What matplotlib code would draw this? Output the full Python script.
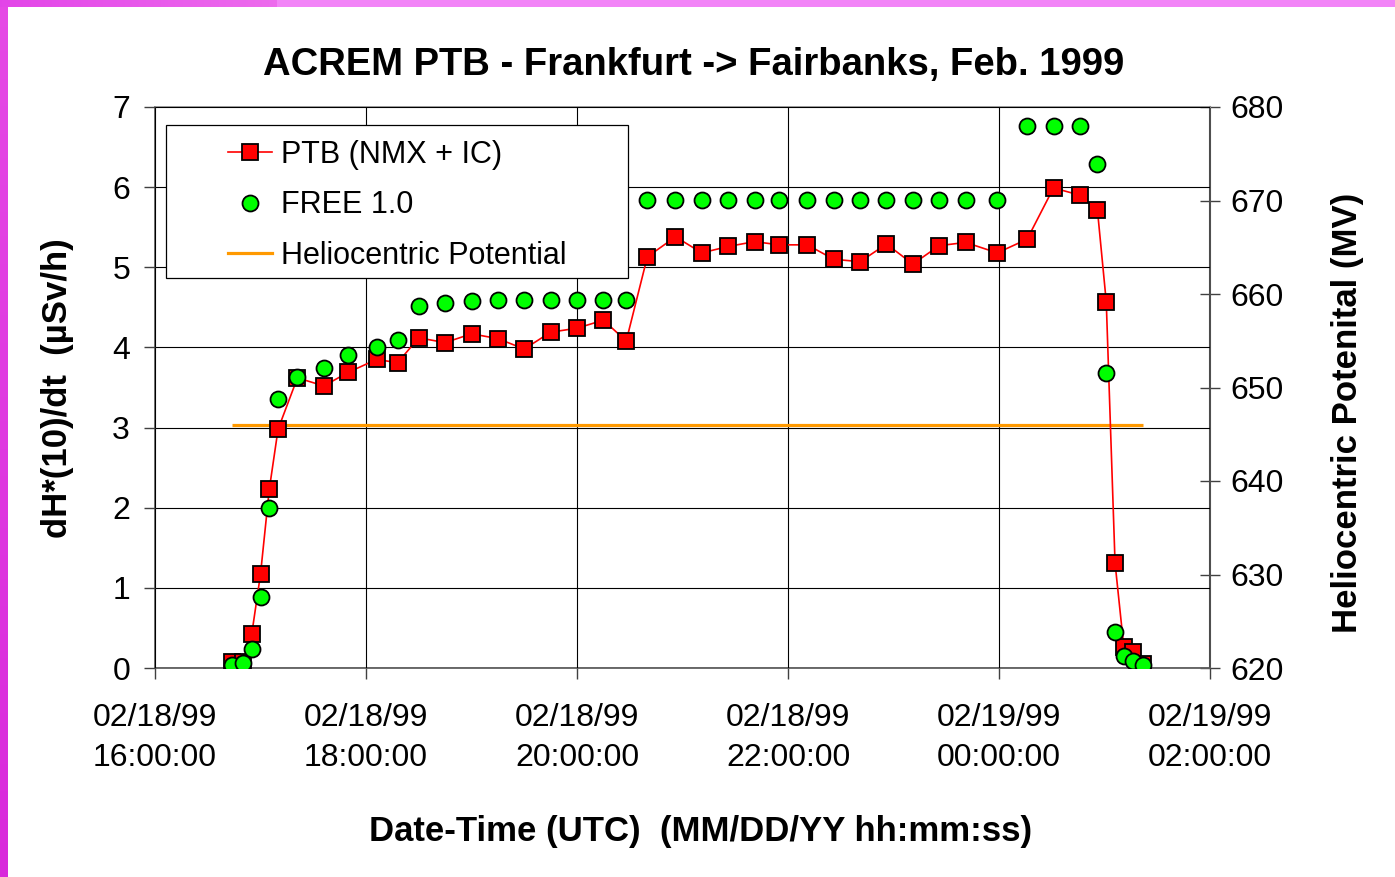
import matplotlib
matplotlib.use("Agg")
import matplotlib.pyplot as plt
import matplotlib.dates as mdates
from matplotlib.lines import Line2D
from matplotlib.patches import Rectangle
import numpy as np
import pandas as pd

# ---------------- data ----------------
times = [
    "02/18/99 16:44", "02/18/99 16:50", "02/18/99 16:55", "02/18/99 17:00", "02/18/99 17:05",
    "02/18/99 17:10", "02/18/99 17:21", "02/18/99 17:36", "02/18/99 17:50", "02/18/99 18:06",
    "02/18/99 18:18", "02/18/99 18:30", "02/18/99 18:45", "02/18/99 19:00", "02/18/99 19:15",
    "02/18/99 19:30", "02/18/99 19:45", "02/18/99 20:00", "02/18/99 20:15", "02/18/99 20:28",
    "02/18/99 20:40", "02/18/99 20:56", "02/18/99 21:11", "02/18/99 21:26", "02/18/99 21:41",
    "02/18/99 21:55", "02/18/99 22:11", "02/18/99 22:26", "02/18/99 22:41", "02/18/99 22:56",
    "02/18/99 23:11", "02/18/99 23:26", "02/18/99 23:41", "02/18/99 23:59", "02/19/99 00:16",
    "02/19/99 00:31", "02/19/99 00:46", "02/19/99 00:56", "02/19/99 01:01", "02/19/99 01:06",
    "02/19/99 01:11", "02/19/99 01:16", "02/19/99 01:22",
]
ptb = [0.07, 0.08, 0.42, 1.17, 2.23, 2.98, 3.62, 3.52, 3.69, 3.85,
       3.81, 4.12, 4.06, 4.17, 4.11, 3.98, 4.19, 4.24, 4.34, 4.08,
       5.13, 5.38, 5.18, 5.26, 5.32, 5.28, 5.28, 5.10, 5.07, 5.29,
       5.04, 5.27, 5.31, 5.18, 5.35, 5.99, 5.90, 5.71, 4.57, 1.31,
       0.26, 0.20, 0.05]
free = [0.04, 0.06, 0.24, 0.88, 2.00, 3.36, 3.63, 3.74, 3.91, 4.01,
        4.09, 4.52, 4.55, 4.58, 4.59, 4.59, 4.59, 4.59, 4.59, 4.59,
        5.84, 5.84, 5.84, 5.84, 5.84, 5.84, 5.84, 5.84, 5.84, 5.84,
        5.84, 5.84, 5.84, 5.84, 6.76, 6.76, 6.76, 6.29, 3.68, 0.45,
        0.15, 0.09, 0.04]
helio_times = ["02/18/99 16:44", "02/19/99 01:22"]
helio_values = [646, 646]

x_range = ["02/18/99 16:00", "02/19/99 02:00"]
left_ticks = [0, 1, 2, 3, 4, 5, 6, 7]
right_ticks = [620, 630, 640, 650, 660, 670, 680]

title = "ACREM PTB - Frankfurt -> Fairbanks, Feb. 1999"
xlabel = "Date-Time (UTC)  (MM/DD/YY hh:mm:ss)"
ylabel_left = "dH*(10)/dt  (\u00b5Sv/h)"
ylabel_right = "Heliocentric Potenital (MV)"
labels = ["PTB (NMX + IC)", "FREE 1.0", "Heliocentric Potential"]

# ---------------- style ----------------
plt.rcParams["font.family"] = ["Liberation Sans", "DejaVu Sans"]
W, H = 1395, 877
fig = plt.figure(figsize=(W / 100, H / 100), dpi=100)
fig.patch.set_facecolor("white")

def px(x0, y0, x1, y1):
    return [x0 / W, 1 - y1 / H, (x1 - x0) / W, (y1 - y0) / H]

ax = fig.add_axes(px(155, 107, 1210, 668))
ax2 = ax.twinx()
ax.set_zorder(ax2.get_zorder() + 1)
ax.patch.set_visible(False)

t = pd.to_datetime(times, format="%m/%d/%y %H:%M")
th = pd.to_datetime(helio_times, format="%m/%d/%y %H:%M")
xr = pd.to_datetime(x_range, format="%m/%d/%y %H:%M")

ax2.set_ylim(620, 680)
ax2.set_yticks(right_ticks)

# heliocentric potential (right scale) drawn inside main axes for z-order control
ax.plot(th, helio_values, color="#FF9900", lw=2.3, transform=ax2.transData, zorder=2.5,
        solid_capstyle="butt")
ax.plot(t, ptb, color="#FF0000", lw=1.2, marker="s", ms=11.5, mfc="#FF0000",
        mec="black", mew=1.3, zorder=3)
ax.plot(t, free, ls="none", marker="o", ms=11.5, mfc="#00FF00", mec="black",
        mew=1.3, zorder=4)

ax.set_xlim(xr[0], xr[1])
ax.set_ylim(0, 7)
ax.set_yticks(left_ticks)
ax.xaxis.set_major_locator(mdates.HourLocator(byhour=range(0, 24, 2)))
ax.xaxis.set_major_formatter(mdates.DateFormatter("%m/%d/%y\n%H:%M:%S"))

ax.grid(True, color="black", lw=0.8, zorder=1)
ax.set_axisbelow(True)

for sp in ["left", "bottom", "top", "right"]:
    ax.spines[sp].set_visible(False)
for sp in ["left", "bottom", "top"]:
    ax2.spines[sp].set_color("#606060")
    ax2.spines[sp].set_linewidth(1.3)
ax2.spines["top"].set_color("#909090")
ax2.spines["right"].set_color("#505050")
ax2.spines["right"].set_linewidth(1.5)

ax.tick_params(axis="y", direction="out", length=8, width=1, color="#404040",
               labelsize=23, pad=10)
ax.tick_params(axis="x", direction="out", length=8, width=1, color="#404040",
               labelsize=23, pad=17.5)
ax2.tick_params(axis="y", direction="inout", length=14, width=1, color="#404040",
                labelsize=23, pad=8)

# legend
handles = [
    Line2D([], [], color="#FF0000", lw=1.2, marker="s", ms=11.5, mfc="#FF0000", mec="black", mew=1.3),
    Line2D([], [], ls="none", marker="o", ms=11.5, mfc="#00FF00", mec="black", mew=1.3),
    Line2D([], [], color="#FF9900", lw=2.3),
]
box = Rectangle(((166 - 155) / 1055, (668 - 278) / 561), (628 - 166) / 1055, (278 - 125) / 561,
                transform=ax.transAxes, facecolor="white", edgecolor="black", lw=0.9, zorder=6)
ax.add_patch(box)
leg = ax.legend(handles, labels, loc="upper left",
                bbox_to_anchor=((228 - 155) / 1055, (668 - 140) / 561),
                frameon=False, fontsize=22, handlelength=1.45, handletextpad=0.3,
                labelspacing=0.67, borderpad=0, borderaxespad=0, numpoints=1)
leg.set_zorder(7)

fig.canvas.draw()
for lab in ax.get_xticklabels():
    lab.set_linespacing(1.4)

# texts
fig.text(694 / W, 1 - 65 / H, title, ha="center", va="center", fontsize=27.5, fontweight="bold")
fig.text(701 / W, 1 - 831 / H, xlabel, ha="center", va="center", fontsize=25, fontweight="bold")
fig.text(57 / W, 1 - 388 / H, ylabel_left, ha="center", va="center", rotation=90,
         fontsize=25, fontweight="bold")
fig.text(1347 / W, 1 - 413 / H, ylabel_right, ha="center", va="center", rotation=90,
         fontsize=25, fontweight="bold")

# magenta slide border decoration
lax = fig.add_axes([0, 0, 8 / W, 1])
grad = np.linspace(0, 1, 256)[:, None]
left_cols = np.array([0.90, 0.29, 0.90]) * (1 - grad)[..., None] + np.array([0.85, 0.16, 0.86]) * grad[..., None]
lax.imshow(left_cols, aspect="auto", extent=[0, 1, 0, 1])
lax.axis("off")
tax = fig.add_axes([0, 1 - 7 / H, 1, 7 / H])
xs = np.linspace(0, 1, 1395)
top = np.zeros((1, 1395, 3))
for i, xv in enumerate(xs):
    if xv < 277 / 1395:
        f = xv / (277 / 1395)
        top[0, i] = np.array([0.89, 0.27, 0.91]) * (1 - f) + np.array([0.93, 0.42, 0.93]) * f
    else:
        top[0, i] = [0.95, 0.52, 0.97]
tax.imshow(top, aspect="auto", extent=[0, 1, 0, 1])
tax.axis("off")

fig.savefig("out.png", dpi=100)
